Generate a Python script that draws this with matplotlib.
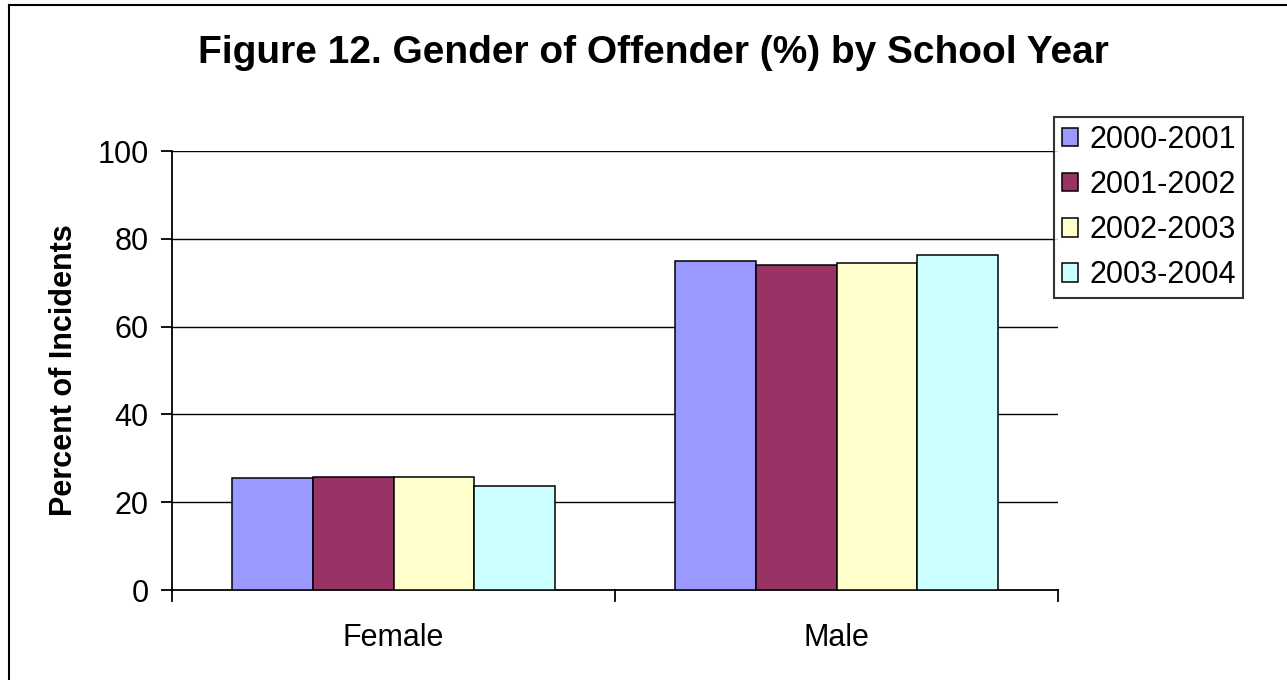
import numpy as np
import matplotlib
matplotlib.use('Agg')
import matplotlib.pyplot as plt
from matplotlib.lines import Line2D

plt.rcParams['font.family'] = ['Liberation Sans', 'DejaVu Sans']

categories = ['Female', 'Male']
years = ['2000-2001', '2001-2002', '2002-2003', '2003-2004']
values = {
    '2000-2001': [25.4, 75.0],
    '2001-2002': [25.8, 74.1],
    '2002-2003': [25.8, 74.5],
    '2003-2004': [23.6, 76.4],
}
colors = ['#9999FF', '#993366', '#FFFFCC', '#CCFFFF']
yticks = [0, 20, 40, 60, 80, 100]

fig = plt.figure(figsize=(12.87, 6.8), dpi=100)
ax = fig.add_axes([172/1287, 1-590/680, 886/1287, 439/680])

# excel style: gap width 150% -> 4 bars + 1.5 gap per category
w = 1/5.5
x = np.arange(len(categories))
for i, (yr, c) in enumerate(zip(years, colors)):
    ax.bar(x + (i-1.5)*w, values[yr], w, color=c, edgecolor='black', lw=1.1,
           label=yr, zorder=3)

ax.set_xlim(-0.5, 1.5)
ax.set_ylim(0, 100)
ax.set_yticks(yticks)
ax.tick_params(axis='y', labelsize=22, length=8, width=1.3, direction='out', pad=9)
for yv in yticks[1:]:
    ax.axhline(yv, color='black', lw=1.0, zorder=1)

ax.set_xticks(x)
ax.set_xticklabels(categories, fontsize=22)
ax.tick_params(axis='x', length=0, pad=24)
for xb in [-0.5, 0.5, 1.5]:
    ax.plot([xb, xb], [0, -0.025], color='black', lw=1.3, clip_on=False,
            transform=ax.get_xaxis_transform())

for s in ['top', 'right']:
    ax.spines[s].set_visible(False)
for s in ['left', 'bottom']:
    ax.spines[s].set_linewidth(1.3)

ax.set_ylabel('Percent of Incidents', fontsize=22, fontweight='bold', labelpad=13)

fig.text(653/1287, 1-53/680, 'Figure 12. Gender of Offender (%) by School Year',
         ha='center', va='center', fontsize=28, fontweight='bold')

leg = ax.legend(loc='upper left', bbox_to_anchor=(1054/1287, 1-117/680),
                bbox_transform=fig.transFigure, fontsize=22, frameon=True,
                fancybox=False, edgecolor='black', borderpad=0.25,
                handlelength=0.55, handleheight=0.55, handletextpad=0.35,
                labelspacing=0.5, borderaxespad=0)
leg.get_frame().set_linewidth(1.5)

# chart area border (only left/top visible in the original crop)
fig.add_artist(Line2D([9/1287, 9/1287], [0, 1-5/680], color='black', lw=1.5,
                      transform=fig.transFigure))
fig.add_artist(Line2D([9/1287, 1], [1-5/680, 1-5/680], color='black', lw=1.5,
                      transform=fig.transFigure))

fig.savefig('out.png', dpi=100)
